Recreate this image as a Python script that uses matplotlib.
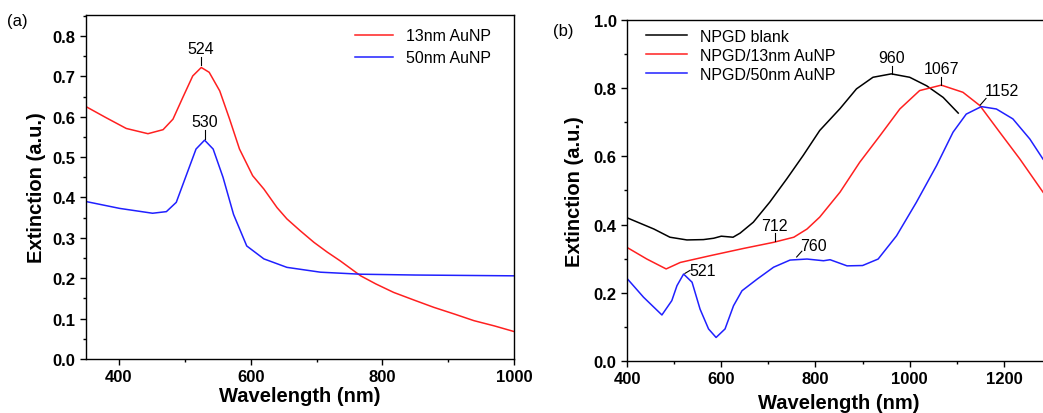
import matplotlib.pyplot as plt
from matplotlib.ticker import MultipleLocator

plt.rcParams['font.family'] = ['Liberation Sans', 'DejaVu Sans']

# ---- panel (a): AuNP colloids
wl_a_13 = [350, 380, 411, 444, 467, 482, 497, 512, 525, 537, 553, 568, 583, 603, 620,
           640, 655, 675, 696, 716, 736, 767, 790, 817, 848, 878, 910, 939, 970, 1000]
ext_a_13 = [0.625, 0.598, 0.571, 0.558, 0.568, 0.594, 0.648, 0.701, 0.722, 0.710, 0.664,
            0.594, 0.520, 0.454, 0.421, 0.375, 0.347, 0.318, 0.289, 0.265, 0.243, 0.206,
            0.186, 0.165, 0.146, 0.128, 0.111, 0.095, 0.082, 0.068]

wl_a_50 = [350, 401, 451, 472, 487, 502, 517, 530, 543, 558, 574, 594, 620, 655, 706,
           767, 850, 1000]
ext_a_50 = [0.390, 0.373, 0.361, 0.365, 0.388, 0.454, 0.520, 0.542, 0.520, 0.450, 0.358,
            0.280, 0.248, 0.227, 0.215, 0.210, 0.208, 0.206]

# ---- panel (b): NPGD substrates
wl_b_blank = [400, 457, 491, 527, 562, 584, 600, 625, 640, 668, 703, 739, 774, 809, 852,
              887, 922, 961, 1000, 1036, 1071, 1103]
ext_b_blank = [0.420, 0.387, 0.363, 0.355, 0.356, 0.360, 0.366, 0.363, 0.375, 0.407, 0.466,
               0.534, 0.603, 0.676, 0.740, 0.798, 0.832, 0.842, 0.832, 0.807, 0.773, 0.727]

wl_b_13 = [400, 442, 483, 513, 577, 647, 711, 754, 782, 809, 852, 894, 937, 979, 1021,
           1067, 1113, 1149, 1191, 1234, 1283]
ext_b_13 = [0.333, 0.299, 0.270, 0.289, 0.309, 0.330, 0.348, 0.363, 0.387, 0.422, 0.495,
            0.583, 0.661, 0.739, 0.793, 0.809, 0.788, 0.749, 0.671, 0.592, 0.495]

wl_b_50 = [400, 435, 474, 495, 506, 520, 538, 555, 573, 589, 608, 626, 644, 676, 711, 746,
           782, 817, 831, 867, 900, 933, 972, 1014, 1057, 1092, 1120, 1152, 1184, 1219,
           1255, 1283]
ext_b_50 = [0.242, 0.187, 0.135, 0.177, 0.221, 0.255, 0.231, 0.152, 0.094, 0.069, 0.094,
            0.162, 0.206, 0.240, 0.275, 0.296, 0.299, 0.294, 0.297, 0.279, 0.280, 0.299,
            0.367, 0.465, 0.573, 0.671, 0.724, 0.746, 0.739, 0.710, 0.651, 0.592]

fig = plt.figure(figsize=(10.43, 4.14), dpi=100)
ax1 = fig.add_axes([0.0825, 0.1304, 0.4104, 0.831])
ax2 = fig.add_axes([0.6012, 0.1256, 0.4065, 0.8237])

label_font = {'fontsize': 14.5, 'fontweight': 'bold'}
red, blue = '#ff2020', '#2020ff'

ax1.plot(wl_a_13, ext_a_13, color=red, lw=1.1, label='13nm AuNP')
ax1.plot(wl_a_50, ext_a_50, color=blue, lw=1.1, label='50nm AuNP')
ax1.set_xlim(350, 1000)
ax1.set_ylim(0, 0.852)
ax1.xaxis.set_major_locator(MultipleLocator(200))
ax1.xaxis.set_minor_locator(MultipleLocator(100))
ax1.yaxis.set_major_locator(MultipleLocator(0.1))
ax1.yaxis.set_minor_locator(MultipleLocator(0.05))
ax1.set_xlabel('Wavelength (nm)', fontdict=label_font, labelpad=1)
ax1.set_ylabel('Extinction (a.u.)', fontdict=label_font, labelpad=5)
ax1.legend(loc='upper left', bbox_to_anchor=(0.61, 0.985), frameon=False, fontsize=11.5,
           handlelength=2.4, borderpad=0, labelspacing=0.45)

# peak labels (a)
ax1.plot([524, 524], [0.727, 0.747], color='k', lw=0.8)
ax1.text(524, 0.750, '524', ha='center', va='bottom', fontsize=11.5)
ax1.plot([530, 530], [0.546, 0.567], color='k', lw=0.8)
ax1.text(530, 0.570, '530', ha='center', va='bottom', fontsize=11.5)

ax2.plot(wl_b_blank, ext_b_blank, color='k', lw=1.1, label='NPGD blank')
ax2.plot(wl_b_13, ext_b_13, color=red, lw=1.1, label='NPGD/13nm AuNP')
ax2.plot(wl_b_50, ext_b_50, color=blue, lw=1.1, label='NPGD/50nm AuNP')
ax2.set_xlim(400, 1300)
ax2.set_ylim(0, 1.0)
ax2.xaxis.set_major_locator(MultipleLocator(200))
ax2.xaxis.set_minor_locator(MultipleLocator(100))
ax2.yaxis.set_major_locator(MultipleLocator(0.2))
ax2.yaxis.set_minor_locator(MultipleLocator(0.1))
ax2.set_xlabel('Wavelength (nm)', fontdict=label_font, labelpad=5)
ax2.set_ylabel('Extinction (a.u.)', fontdict=label_font, labelpad=7)
ax2.legend(loc='upper left', bbox_to_anchor=(0.025, 0.998), frameon=False, fontsize=11.5,
           handlelength=2.6, borderpad=0, labelspacing=0.25)

# peak labels (b)
ax2.plot([962, 962], [0.843, 0.866], color='k', lw=0.8)
ax2.text(962, 0.868, '960', ha='center', va='bottom', fontsize=11.5)
ax2.plot([1067, 1067], [0.810, 0.833], color='k', lw=0.8)
ax2.text(1067, 0.835, '1067', ha='center', va='bottom', fontsize=11.5)
ax2.plot([1150, 1162], [0.751, 0.770], color='k', lw=0.8)
ax2.text(1160, 0.770, '1152', ha='left', va='bottom', fontsize=11.5)
ax2.plot([715, 715], [0.352, 0.376], color='k', lw=0.8)
ax2.text(712, 0.374, '712', ha='center', va='bottom', fontsize=11.5)
ax2.plot([760, 771], [0.305, 0.322], color='k', lw=0.8)
ax2.text(767, 0.318, '760', ha='left', va='bottom', fontsize=11.5)
ax2.plot([523, 534], [0.257, 0.266], color='k', lw=0.8)
ax2.text(533, 0.266, '521', ha='left', va='center', fontsize=11.5)

for ax in (ax1, ax2):
    ax.tick_params(which='major', direction='out', length=4, width=1, top=False, right=False)
    ax.tick_params(which='minor', direction='out', length=2.5, width=1, top=False, right=False)
    for lab in ax.get_xticklabels() + ax.get_yticklabels():
        lab.set_fontweight('bold')
        lab.set_fontsize(12)
    for sp in ax.spines.values():
        sp.set_linewidth(1.0)

fig.text(0.017, 0.947, '(a)', fontsize=12, ha='center', va='center')
fig.text(0.540, 0.925, '(b)', fontsize=12, ha='center', va='center')

plt.savefig('out.png', dpi=100)
